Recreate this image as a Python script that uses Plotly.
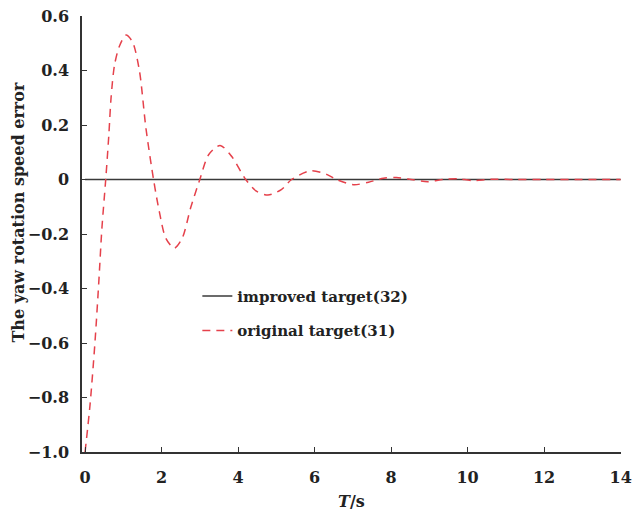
import plotly.graph_objects as go

# Data
t_original = [0.0, 0.13, 0.26, 0.36, 0.44, 0.54, 0.62, 0.68, 0.77, 0.90, 1.07, 1.24, 1.42, 1.59,
              1.79, 1.94, 2.11, 2.33, 2.54, 2.76, 3.0, 3.23, 3.53, 3.83, 4.2, 4.48, 4.78, 5.13,
              5.40, 5.90, 6.33, 6.57, 7.02, 7.41, 7.8, 8.14, 8.57, 8.96, 9.35, 9.73, 10.12,
              10.6, 11.2, 12.0, 13.0, 14.0]
v_original = [-1.0, -0.827, -0.595, -0.374, -0.18, 0.0, 0.16, 0.30, 0.42, 0.49, 0.53, 0.505, 0.40, 0.19,
              0.0, -0.117, -0.215, -0.252, -0.215, -0.104, 0.0, 0.091, 0.125, 0.085, 0.0, -0.043, -0.057, -0.037,
              0.0, 0.032, 0.018, 0.0, -0.019, -0.01, 0.005, 0.007, -0.001, -0.008, 0.0, 0.003, -0.004,
              0.001, 0.0, 0.0, 0.0, 0.0]
t_improved = [0, 2, 4, 6, 8, 10, 12, 14]
v_improved = [0, 0, 0, 0, 0, 0, 0, 0]

x_ticks = [0, 2, 4, 6, 8, 10, 12, 14]
y_ticks = [-1.0, -0.8, -0.6, -0.4, -0.2, 0, 0.2, 0.4, 0.6]
y_ticktext = ["\u22121.0", "\u22120.8", "\u22120.6", "\u22120.4", "\u22120.2", "0", "0.2", "0.4", "0.6"]
y_title = "The yaw rotation speed error"

FONT = "DejaVu Serif"

fig = go.Figure()
fig.add_trace(go.Scatter(
    x=t_improved, y=v_improved, mode="lines", name="improved target(32)",
    line=dict(color="#3a3a3a", width=1.5), legendgroup="a"))
fig.add_trace(go.Scatter(
    x=t_original, y=v_original, mode="lines", name="original target(31)",
    line=dict(color="#e5414b", width=1.5, dash="8px,6px", shape="spline", smoothing=0.8),
    legendgroup="b"))

fig.update_layout(
    width=632, height=515,
    margin=dict(l=82, r=11, t=16, b=63),
    paper_bgcolor="white", plot_bgcolor="white",
    font=dict(family=FONT, size=16, color="#222222", weight="bold"),
    legend=dict(x=0.214, y=0.395, xanchor="left", yanchor="top",
                bgcolor="rgba(0,0,0,0)", font=dict(size=15, family=FONT, weight="bold"),
                tracegroupgap=12, itemwidth=30),
    xaxis=dict(range=[-0.08, 14.01], tickvals=x_ticks, ticks="inside", ticklen=5,
               tickwidth=1.2, tickcolor="#333333", showline=True, linecolor="#333333",
               linewidth=1.5, showgrid=False, zeroline=False, ticklabelstandoff=10,
               ticklabeloverflow="allow", automargin=False,
               tickfont=dict(size=16, family=FONT, weight="bold"),
               title=dict(text="<i>T</i>/s", standoff=10,
                          font=dict(size=16, family=FONT, weight="bold"))),
    yaxis=dict(range=[-1.0, 0.6], tickvals=y_ticks, ticktext=y_ticktext, ticks="inside",
               ticklen=5, tickwidth=1.2, tickcolor="#333333", showline=True,
               linecolor="#333333", linewidth=1.5, showgrid=False, zeroline=False,
               ticklabelstandoff=8, automargin=False,
               tickfont=dict(size=16, family=FONT, weight="bold")),
    annotations=[dict(text=y_title, textangle=-90, xref="paper", yref="paper",
                      x=-0.118, y=0.55, xanchor="center", yanchor="middle",
                      showarrow=False, font=dict(size=16, family=FONT, weight="bold"))],
)

fig.write_html("out.html")
